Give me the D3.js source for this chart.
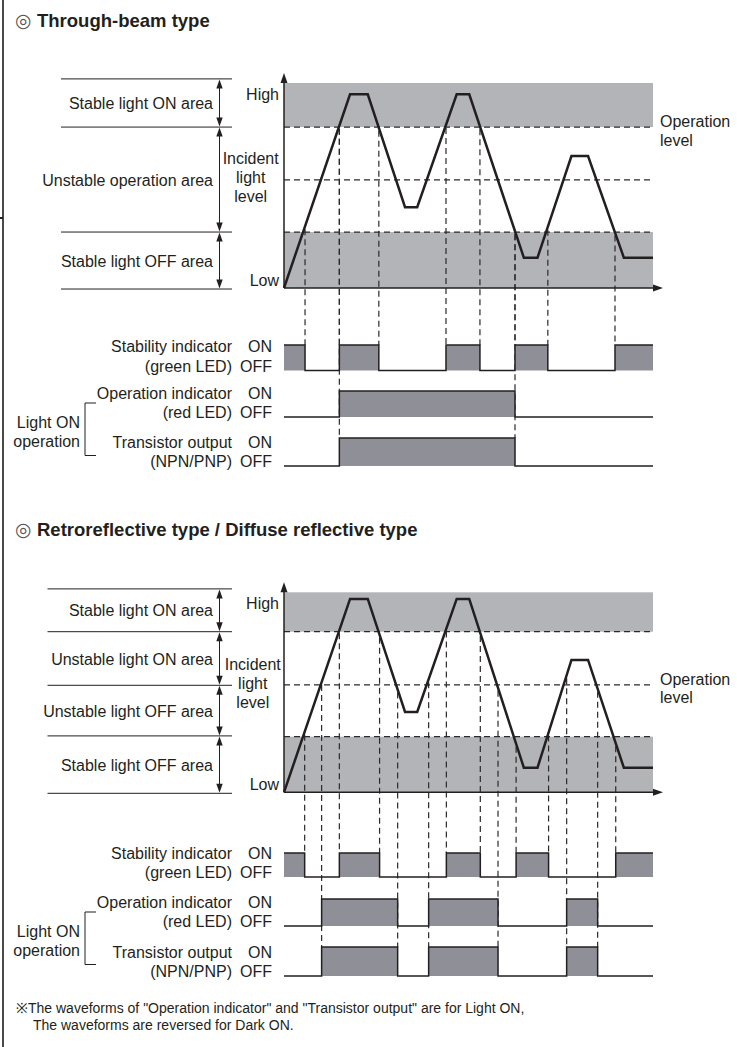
<!DOCTYPE html>
<html>
<head>
<meta charset="utf-8">
<script src="https://cdn.jsdelivr.net/npm/d3@7"></script>
<style>
  body { margin: 0; background: #fff; }
  text { font-family: "Liberation Sans", Arial, sans-serif; fill: #231f20; }
</style>
</head>
<body>
<div id="chart"></div>
<script>
// ---- data (time 0..100, light level 0..100) ----
const waveTime = [0, 17.9, 22.7, 32.8, 36.1, 46.8, 50.2, 65.0, 68.7, 77.9, 82.4, 92.1, 100]
const throughLevel = [0, 94.5, 94.5, 39.4, 39.4, 94.5, 94.5, 14.8, 14.8, 64.4, 64.4, 14.8, 14.8]
const retroLevel = [0, 96.7, 96.7, 40.2, 40.2, 96.7, 96.7, 12.3, 12.3, 66.2, 66.2, 12.3, 12.3]

// dashed level lines: stable ON limit, middle / operation level, stable OFF limit
const throughLines = [78.5, 52.7, 27.3]
const retroLines = [80.3, 53.7, 27.8]

// area borders on the left side
const throughAreaBounds = [102, 78.5, 27.3, -0.5]
const retroAreaBounds = [101.7, 80.3, 53.5, 28.2, -0.5]
const throughAreas = ['Stable light ON area', 'Unstable operation area', 'Stable light OFF area']
const retroAreas = ['Stable light ON area', 'Unstable light ON area', 'Unstable light OFF area', 'Stable light OFF area']

// switching times of the outputs (first state ON for stability, OFF for operation)
const throughStability = [5.7, 15.0, 25.7, 43.9, 53.1, 62.6, 71.5, 89.7]
const throughOperation = [15.0, 62.6]
const retroStability = [5.6, 15.0, 25.9, 44.0, 53.2, 62.9, 71.7, 89.9]
const retroOperation = [10.2, 30.8, 39.2, 58.0, 76.6, 85.0]

const signalLabels = [['Stability indicator', '(green LED)'], ['Operation indicator', '(red LED)'], ['Transistor output', '(NPN/PNP)']]

const W = 737, H = 1047
const ink = '#231f20', band = '#b2b4b7', fillSig = '#8f9097', dash = '#2a2a2a'

const svg = d3.select('#chart').append('svg').attr('width', W).attr('height', H)

// page frame
svg.append('line').attr('x1', 3).attr('x2', 3).attr('y1', 0).attr('y2', H)
  .attr('stroke', '#4a4a4a').attr('stroke-width', 2)
svg.append('line').attr('x1', 0).attr('x2', 3).attr('y1', 218).attr('y2', 218)
  .attr('stroke', ink).attr('stroke-width', 2)

const x = d3.scaleLinear().domain([0, 100]).range([284, 653])

function title(yy, txt) {
  svg.append('text').attr('x', 15).attr('y', yy).style('font-size', '19px')
    .style('font-family', '"DejaVu Sans", sans-serif').style('fill', '#555').text('◎')
  svg.append('text').attr('x', 37).attr('y', yy).style('font-size', '18.5px')
    .style('font-weight', 'bold').text(txt)
}

function chart(c) {
  const g = svg.append('g')
  const y = d3.scaleLinear().domain([0, 100]).range([c.yBottom, c.yTop])
  const waveAt = d3.scaleLinear().domain(waveTime).range(c.level)

  // grey bands
  g.append('rect').attr('x', x(0)).attr('y', y(100)).attr('width', x(100) - x(0))
    .attr('height', y(c.lines[0]) - y(100)).attr('fill', band)
  g.append('rect').attr('x', x(0)).attr('y', y(c.lines[2])).attr('width', x(100) - x(0))
    .attr('height', y(0) - y(c.lines[2])).attr('fill', band)

  // dashed level lines
  c.lines.forEach(l => {
    g.append('line').attr('x1', x(0)).attr('x2', x(100)).attr('y1', y(l)).attr('y2', y(l))
      .attr('stroke', dash).attr('stroke-width', 1.2).attr('stroke-dasharray', '6,4')
  })

  // dashed drop lines
  const rows = c.rows
  c.stability.forEach(t => {
    g.append('line').attr('x1', x(t)).attr('x2', x(t)).attr('y1', y(waveAt(t)) + 3).attr('y2', rows[0][0])
      .attr('stroke', dash).attr('stroke-width', 1.2).attr('stroke-dasharray', '6,4')
  })
  c.operation.forEach(t => {
    g.append('line').attr('x1', x(t)).attr('x2', x(t)).attr('y1', y(waveAt(t)) + 3).attr('y2', rows[2][0])
      .attr('stroke', dash).attr('stroke-width', 1.2).attr('stroke-dasharray', '6,4')
  })

  // axes with arrows
  g.append('line').attr('x1', x(0)).attr('x2', x(0)).attr('y1', y(0)).attr('y2', y(100) - 4)
    .attr('stroke', ink).attr('stroke-width', 1.5)
  g.append('path').attr('d', `M${x(0)},${y(100) - 10}l-3.5,10h7z`).attr('fill', ink)
  g.append('line').attr('x1', x(0)).attr('x2', x(100) + 4).attr('y1', y(0)).attr('y2', y(0))
    .attr('stroke', ink).attr('stroke-width', 1.5)
  g.append('path').attr('d', `M${x(100) + 10},${y(0)}l-10,-3.5v7z`).attr('fill', ink)

  // waveform
  g.append('path').datum(d3.zip(waveTime, c.level))
    .attr('d', d3.line().x(d => x(d[0])).y(d => y(d[1])))
    .attr('fill', 'none').attr('stroke', ink).attr('stroke-width', 2.5).attr('stroke-linejoin', 'miter')

  // axis words
  g.append('text').attr('x', 279).attr('y', y(100) + 16.5).attr('text-anchor', 'end').style('font-size', '16px').text('High')
  g.append('text').attr('x', 279).attr('y', y(0) - 2.5).attr('text-anchor', 'end').style('font-size', '16px').text('Low')
  ;['Incident', 'light', 'level'].forEach((w, i) => {
    g.append('text').attr('x', c.incidentX).attr('y', y(50) - 3 + (i - 1) * 19)
      .attr('text-anchor', 'middle').style('font-size', '16px').text(w)
  })
  const opY = y(c.lines[c.opIndex])
  g.append('text').attr('x', 660).attr('y', opY).style('font-size', '16px').text('Operation')
  g.append('text').attr('x', 660).attr('y', opY + 18.5).style('font-size', '16px').text('level')

  // area borders, double arrows, names
  c.bounds.forEach(b => {
    g.append('line').attr('x1', c.labelX0).attr('x2', 232).attr('y1', y(b)).attr('y2', y(b))
      .attr('stroke', ink).attr('stroke-width', 1)
  })
  c.areas.forEach((name, i) => {
    const y0 = y(c.bounds[i]), y1 = y(c.bounds[i + 1])
    g.append('line').attr('x1', 219.5).attr('x2', 219.5).attr('y1', y0 + 6).attr('y2', y1 - 6)
      .attr('stroke', ink).attr('stroke-width', 1)
    g.append('path').attr('d', `M219.5,${y0 + 0.5}l-3.2,9h6.4z`).attr('fill', ink)
    g.append('path').attr('d', `M219.5,${y1 - 0.5}l-3.2,-9h6.4z`).attr('fill', ink)
    g.append('text').attr('x', 213).attr('y', (y0 + y1) / 2 + 6).attr('text-anchor', 'end')
      .style('font-size', '16px').text(name)
  })

  // output signals
  const signals = [
    { edges: c.stability, first: 1 },
    { edges: c.operation, first: 0 },
    { edges: c.operation, first: 0 }
  ]
  signals.forEach((s, r) => {
    const [yOn, yOff] = rows[r]
    const b = [0, ...s.edges, 100]
    let state = s.first
    const pts = []
    for (let i = 0; i < b.length - 1; i++) {
      const yy = state ? yOn : yOff
      if (state) {
        g.append('rect').attr('x', x(b[i])).attr('y', yOn).attr('width', x(b[i + 1]) - x(b[i]))
          .attr('height', yOff - yOn).attr('fill', fillSig)
      }
      pts.push([x(b[i]), yy], [x(b[i + 1]), yy])
      state = 1 - state
    }
    g.append('path').attr('d', d3.line()(pts)).attr('fill', 'none')
      .attr('stroke', ink).attr('stroke-width', 1.5)

    g.append('text').attr('x', 232).attr('y', yOff - 18.5).attr('text-anchor', 'end').style('font-size', '16px').text(signalLabels[r][0])
    g.append('text').attr('x', 232).attr('y', yOff + 1).attr('text-anchor', 'end').style('font-size', '16px').text(signalLabels[r][1])
    g.append('text').attr('x', 272).attr('y', yOff - 18.5).attr('text-anchor', 'end').style('font-size', '16px').text('ON')
    g.append('text').attr('x', 272).attr('y', yOff + 1).attr('text-anchor', 'end').style('font-size', '16px').text('OFF')
  })

  // Light ON operation bracket
  const tOn = rows[2][0]
  g.append('path').attr('d', `M96,${tOn - 35}H85V${tOn + 17.5}H96`).attr('fill', 'none')
    .attr('stroke', ink).attr('stroke-width', 1)
  g.append('text').attr('x', 80).attr('y', tOn - 10).attr('text-anchor', 'end').style('font-size', '16px').text('Light ON')
  g.append('text').attr('x', 80).attr('y', tOn + 8.5).attr('text-anchor', 'end').style('font-size', '16px').text('operation')
}

title(27, 'Through-beam type')
chart({
  yBottom: 288, yTop: 83, level: throughLevel, lines: throughLines, opIndex: 0,
  bounds: throughAreaBounds, areas: throughAreas, labelX0: 61, incidentX: 250.7,
  stability: throughStability, operation: throughOperation,
  rows: [[345, 370.5], [391, 417], [438, 466]]
})

title(536, 'Retroreflective type / Diffuse reflective type')
chart({
  yBottom: 792.3, yTop: 592.3, level: retroLevel, lines: retroLines, opIndex: 1,
  bounds: retroAreaBounds, areas: retroAreas, labelX0: 47.5, incidentX: 252.8,
  stability: retroStability, operation: retroOperation,
  rows: [[853, 877], [899, 926], [947, 976]]
})

// footnote
svg.append('text').attr('x', 16).attr('y', 1013).style('font-size', '14px')
  .text('※The waveforms of "Operation indicator" and "Transistor output" are for Light ON,')
svg.append('text').attr('x', 33).attr('y', 1030).style('font-size', '14px')
  .text('The waveforms are reversed for Dark ON.')
</script>
</body>
</html>
